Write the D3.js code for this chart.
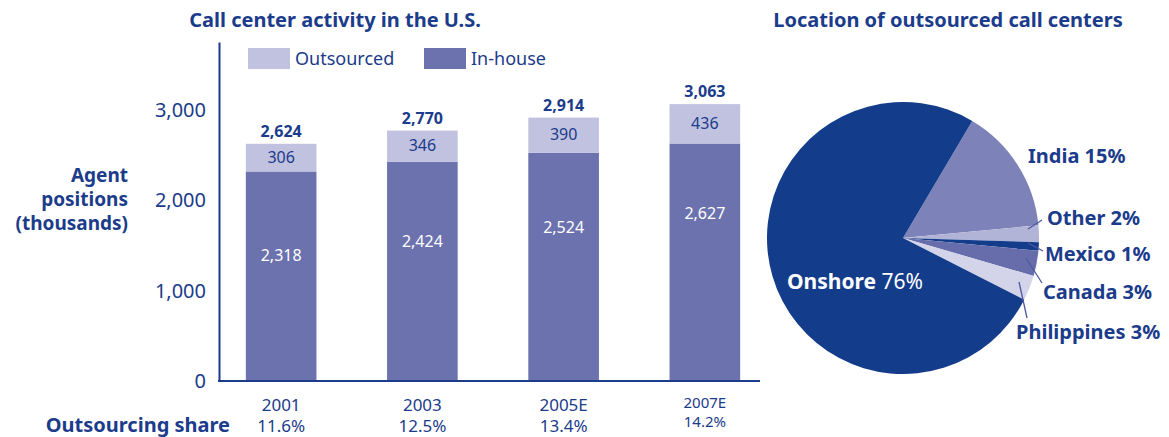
<!DOCTYPE html>
<html>
<head>
<meta charset="utf-8">
<script src="https://cdn.jsdelivr.net/npm/d3@7"></script>
<style>
  body { margin: 0; background: #fff; }
  text { font-family: "Noto Sans", "Open Sans", sans-serif; fill: #1b3b8b; }
</style>
</head>
<body>
<div id="chart"></div>
<script>
// bar chart data
const years = ['2001', '2003', '2005E', '2007E'];
const inHouse = [2318, 2424, 2524, 2627];
const outsourced = [306, 346, 390, 436];
const totals = [2624, 2770, 2914, 3063];
const shares = ['11.6%', '12.5%', '13.4%', '14.2%'];
const yTicks = [0, 1000, 2000, 3000];

// pie data
const regions = ['India', 'Other', 'Mexico', 'Canada', 'Philippines', 'Onshore'];
const regionShare = [15, 2, 1, 3, 3, 76];

const W = 1169, H = 437;
const blue = '#1b3b8b';
const colInHouse = '#6b72ae', colOut = '#c1c2df';
const pieColors = ['#7d83b9', '#b1b4d7', '#133c8b', '#676dab', '#d3d4ea', '#133c8b'];

const svg = d3.select('#chart').append('svg')
    .attr('width', W).attr('height', H);

// scales
const x = d3.scaleBand().domain(years).range([219, 767]).paddingInner(0.5).paddingOuter(0.19);
const y = d3.scaleLinear().domain([0, 3750]).range([381, 42]);

// title
svg.append('text')
    .attr('x', 335).attr('y', 27)
    .attr('text-anchor', 'middle')
    .style('font-size', '20px').style('font-weight', 'bold')
    .text('Call center activity in the U.S.');

// legend
const legendItems = [{text: 'Outsourced', color: colOut, x: 248}, {text: 'In-house', color: colInHouse, x: 424}];
const legend = svg.selectAll('.legend')
    .data(legendItems)
    .enter().append('g')
    .attr('class', 'legend')
    .attr('transform', function (d) { return `translate(${d.x}, 48)`; });
legend.append('rect')
    .attr('width', 42).attr('height', 21)
    .style('fill', function (d) { return d.color; });
legend.append('text')
    .attr('x', 47).attr('y', 17)
    .style('font-size', '18px')
    .text(function (d) { return d.text; });

// y axis
const yAxis = d3.axisLeft(y).tickValues(yTicks).tickSize(0).tickPadding(13).tickFormat(d3.format(','));
const gy = svg.append('g')
    .attr('transform', 'translate(219, 0)')
    .call(yAxis);
gy.select('.domain').attr('stroke', blue).attr('stroke-width', 2);
gy.selectAll('.tick text')
    .style('font-size', '20px')
    .style('font-family', '"Noto Sans", sans-serif')
    .attr('fill', blue);

// y axis title
svg.append('text')
    .attr('x', 128).attr('y', 182)
    .attr('text-anchor', 'end')
    .style('font-size', '19px').style('font-weight', 'bold')
    .selectAll('tspan')
    .data(['Agent', 'positions', '(thousands)'])
    .enter().append('tspan')
    .attr('x', 128)
    .attr('dy', function (d, i) { return i === 0 ? 0 : 24; })
    .text(function (d) { return d; });

// stacked bars
const bars = svg.selectAll('.bar')
    .data(years)
    .enter().append('g')
    .attr('class', 'bar');

bars.append('rect')
    .attr('x', function (d) { return x(d); })
    .attr('width', x.bandwidth())
    .attr('y', function (d, i) { return y(inHouse[i]); })
    .attr('height', function (d, i) { return y(0) - y(inHouse[i]); })
    .style('fill', colInHouse);

bars.append('rect')
    .attr('x', function (d) { return x(d); })
    .attr('width', x.bandwidth())
    .attr('y', function (d, i) { return y(inHouse[i] + outsourced[i]); })
    .attr('height', function (d, i) { return y(inHouse[i]) - y(inHouse[i] + outsourced[i]); })
    .style('fill', colOut);

// value labels
bars.append('text')
    .attr('x', function (d) { return x(d) + x.bandwidth() / 2; })
    .attr('y', function (d, i) { return y(inHouse[i]) + 90 - i * 5; })
    .attr('text-anchor', 'middle')
    .style('font-size', '16px')
    .style('fill', '#fff')
    .text(function (d, i) { return d3.format(',')(inHouse[i]); });

bars.append('text')
    .attr('x', function (d) { return x(d) + x.bandwidth() / 2; })
    .attr('y', function (d, i) { return (y(inHouse[i]) + y(inHouse[i] + outsourced[i])) / 2 + 5; })
    .attr('text-anchor', 'middle')
    .style('font-size', '16px')
    .text(function (d, i) { return outsourced[i]; });

bars.append('text')
    .attr('x', function (d) { return x(d) + x.bandwidth() / 2; })
    .attr('y', function (d, i) { return y(totals[i]) - 7; })
    .attr('text-anchor', 'middle')
    .style('font-size', '16px').style('font-weight', 'bold')
    .text(function (d, i) { return d3.format(',')(totals[i]); });

// baseline
svg.append('line')
    .attr('x1', 218).attr('x2', 760)
    .attr('y1', y(0)).attr('y2', y(0))
    .attr('stroke', blue).attr('stroke-width', 2);

// category + share labels
bars.append('text')
    .attr('x', function (d) { return x(d) + x.bandwidth() / 2; })
    .attr('y', function (d, i) { return i === 3 ? 408 : 411; })
    .attr('text-anchor', 'middle')
    .style('font-size', function (d, i) { return i === 3 ? '15px' : '17px'; })
    .text(function (d) { return d; });

bars.append('text')
    .attr('x', function (d) { return x(d) + x.bandwidth() / 2; })
    .attr('y', function (d, i) { return i === 3 ? 427 : 432; })
    .attr('text-anchor', 'middle')
    .style('font-size', function (d, i) { return i === 3 ? '15px' : '17px'; })
    .text(function (d, i) { return shares[i]; });

svg.append('text')
    .attr('x', 230).attr('y', 432)
    .attr('text-anchor', 'end')
    .style('font-size', '20px').style('font-weight', 'bold')
    .text('Outsourcing share');

// pie chart
svg.append('text')
    .attr('x', 948).attr('y', 27)
    .attr('text-anchor', 'middle')
    .style('font-size', '20px').style('font-weight', 'bold')
    .text('Location of outsourced call centers');

const cx = 903, cy = 238, r = 136;
const startA = 30.6 * Math.PI / 180;
const pie = d3.pie().sort(null)
    .startAngle(startA).endAngle(startA + 2 * Math.PI)
    .value(function (d) { return d; });
const arc = d3.arc().innerRadius(0).outerRadius(r);
const arcs = pie(regionShare);

const gp = svg.append('g').attr('transform', `translate(${cx}, ${cy})`);
gp.selectAll('path')
    .data(arcs)
    .enter().append('path')
    .attr('d', arc)
    .style('fill', function (d, i) { return pieColors[i]; });

// pie labels (with leader lines for the small slices)
const pieLabels = [
    {i: 0, x: 1028, y: 163, line: null},
    {i: 1, x: 1047, y: 225, line: [[1028, 229], [1042, 220]]},
    {i: 2, x: 1045, y: 261, line: [[1028, 243], [1043, 251]]},
    {i: 3, x: 1043, y: 299, line: [[1026, 258], [1042, 283]]},
    {i: 4, x: 1016, y: 339, line: [[1019, 282], [1027, 318]]}
];
pieLabels.forEach(function (l) {
    if (l.line) {
        svg.append('line')
            .attr('x1', l.line[0][0]).attr('y1', l.line[0][1])
            .attr('x2', l.line[1][0]).attr('y2', l.line[1][1])
            .attr('stroke', '#4f58a0').attr('stroke-width', 1.3);
    }
    svg.append('text')
        .attr('x', l.x).attr('y', l.y)
        .style('font-size', '20px').style('font-weight', 'bold')
        .text(`${regions[l.i]} ${regionShare[l.i]}%`);
});

const onshore = svg.append('text')
    .attr('x', 787).attr('y', 289)
    .style('font-size', '21px')
    .style('fill', '#fff');
onshore.append('tspan').style('font-weight', 'bold').style('fill', '#fff').text(regions[5]);
onshore.append('tspan').style('fill', '#fff').text(` ${regionShare[5]}%`);
</script>
</body>
</html>
